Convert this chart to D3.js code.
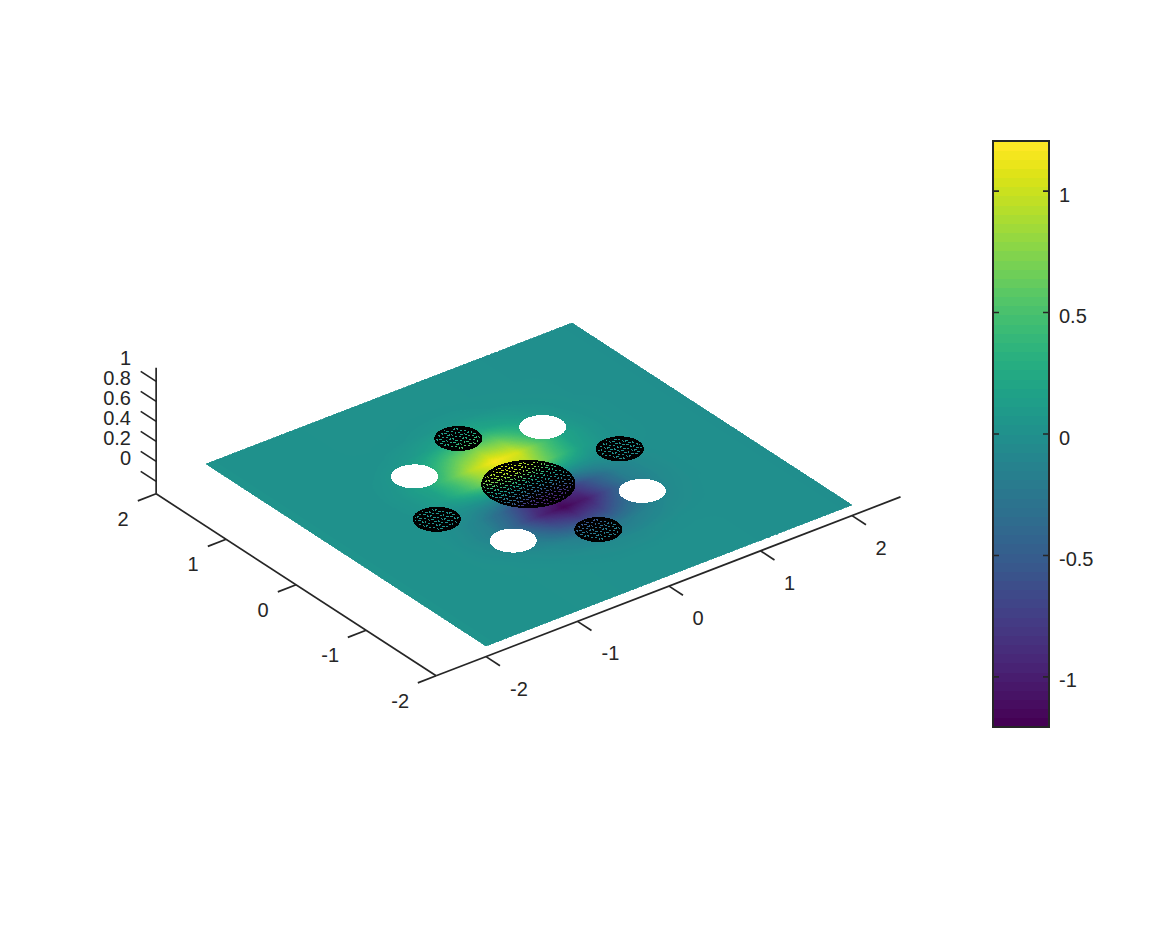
<!DOCTYPE html>
<html><head><meta charset="utf-8">
<script src="https://cdn.jsdelivr.net/npm/d3@7"></script>
<style>html,body{margin:0;background:#fff}svg{display:block}text{font-family:"Liberation Sans",sans-serif;font-size:20px;fill:#262626}</style>
</head><body><svg id="c" width="1167" height="927"></svg>
<script>
const xTicks=[-2,-1,0,1,2], yTicks=[-2,-1,0,1,2], zTicks=[0,0.2,0.4,0.6,0.8,1], cbTicks=[-1,-0.5,0,0.5,1];
const xLim=[-2.545,2.53], yLim=[-2,2], zLim=[-0.124,1.136], cLim=[-1.206,1.206];
const gridX=[-2,-1.5,-1.25,-1,-0.75,-0.5,-0.25,0,0.25,0.5,0.75,1,1.25,1.5,2];
const gridY=[2,1.5,1.25,1,0.75,0.5,0.25,0,-0.25,-0.5,-0.75,-1,-1.25,-1.5,-2];
const fieldValues=[
[0.03,0.02,0.015,0.01,0.005,0,0,0,0,0,-0.005,-0.01,-0.01,-0.015,-0.02],
[0.03,0.02,0.015,0.01,0.005,0,0.01,0.01,0.01,0,-0.005,-0.01,-0.01,-0.015,-0.02],
[0.03,0.02,0.015,0.01,0.01,0.02,0.04,0.06,0.06,0.03,0.01,-0.005,-0.01,-0.015,-0.02],
[0.03,0.02,0.015,0.02,0.04,0.09,0.17,0.25,0.24,0.15,0.06,0.02,-0.01,-0.015,-0.02],
[0.03,0.02,0.015,0.04,0.1,0.3,0.58,0.75,0.68,0.36,0.13,0.04,0,-0.015,-0.02],
[0.03,0.02,0.015,0.06,0.18,0.52,0.93,1.18,1.05,0.58,0.2,0.06,0,-0.015,-0.02],
[0.03,0.02,0.015,0.05,0.15,0.43,0.78,0.96,0.84,0.47,0.15,0.04,0,-0.015,-0.02],
[0.03,0.02,0.015,0.01,0.005,0,0,0,0,0,-0.005,-0.01,-0.01,-0.015,-0.02],
[0.03,0.02,0.01,-0.03,-0.12,-0.38,-0.78,-0.96,-0.82,-0.47,-0.17,-0.06,-0.02,-0.015,-0.02],
[0.03,0.02,0.01,-0.05,-0.16,-0.5,-0.95,-1.18,-1.02,-0.58,-0.2,-0.07,-0.02,-0.015,-0.02],
[0.03,0.02,0.01,-0.03,-0.09,-0.28,-0.58,-0.75,-0.66,-0.36,-0.13,-0.05,-0.02,-0.015,-0.02],
[0.03,0.02,0.015,0,-0.03,-0.08,-0.17,-0.25,-0.23,-0.14,-0.06,-0.03,-0.01,-0.015,-0.02],
[0.03,0.02,0.015,0.01,0,-0.02,-0.04,-0.06,-0.06,-0.03,-0.015,-0.01,-0.01,-0.015,-0.02],
[0.03,0.02,0.015,0.01,0.005,0,-0.01,-0.01,-0.01,-0.005,-0.005,-0.01,-0.01,-0.015,-0.02],
[0.03,0.02,0.015,0.01,0.005,0,0,0,0,0,-0.005,-0.01,-0.01,-0.015,-0.02]];
// holes: [x, y, radius]
const whiteHoles=[[0.7,0.72,0.2],[0.71,-0.69,0.2],[-0.7,-0.69,0.2],[-0.7,0.72,0.2]];
const meshedHoles=[[0,0.01,0.4],[1,0.01,0.2],[0,1.01,0.2],[-1,0.01,0.2],[0,-0.99,0.2]];

const svg=d3.select('#c');
const INK='#262626';
const colours=d3.range(64).map(i=>d3.interpolateViridis(i/63));
const shades=d3.range(256).map(i=>d3.interpolateViridis(i/255));
const colourOf=d3.scaleQuantize().domain(cLim).range(shades);
// projection
const cx=529, cy=484.5;
const hx=d3.scaleLinear([-2,2],[-183,183]), hy=d3.scaleLinear([-2,2],[140,-140]);
const vx=d3.scaleLinear([-2,2],[70.5,-70.5]), vy=d3.scaleLinear([-2,2],[91,-91]), vz=d3.scaleLinear([0,1],[-1.8,-101.8]);
const P=(x,y,z)=>[cx+hx(x)+hy(y), cy+vx(x)+vy(y)+(z===undefined?0:vz(z))];
const poly=pts=>'M'+pts.map(p=>p[0].toFixed(2)+','+p[1].toFixed(2)).join('L')+'Z';

// surface: bilinear shading of the value table, merged per colour level
const buckets=new Map(shades.map(c=>[c,[]]));
const fineStep=i=>Math.max(1,Math.round((gridX[i+1]-gridX[i])/0.0125));
for(let r=0;r<gridY.length-1;r++)for(let c=0;c<gridX.length-1;c++){
  const nx=fineStep(c), ny=Math.max(1,Math.round((gridY[r]-gridY[r+1])/0.0125));
  const v00=fieldValues[r][c],v10=fieldValues[r][c+1],v01=fieldValues[r+1][c],v11=fieldValues[r+1][c+1];
  for(let i=0;i<nx;i++)for(let j=0;j<ny;j++){
    const u=(i+.5)/nx,w=(j+.5)/ny;
    const v=(v00*(1-u)+v10*u)*(1-w)+(v01*(1-u)+v11*u)*w;
    const x0=gridX[c]+(gridX[c+1]-gridX[c])*i/nx,x1=gridX[c]+(gridX[c+1]-gridX[c])*(i+1)/nx;
    const y0=gridY[r]+(gridY[r+1]-gridY[r])*j/ny,y1=gridY[r]+(gridY[r+1]-gridY[r])*(j+1)/ny;
    buckets.get(colourOf(v)).push(poly([P(x0,y0),P(x1,y0),P(x1,y1),P(x0,y1)]));
  }
}
svg.append('g').attr('shape-rendering','crispEdges').selectAll('path').data([...buckets].filter(d=>d[1].length)).join('path')
  .attr('d',d=>d[1].join('')).attr('fill',d=>d[0]).attr('stroke',d=>d[0]).attr('stroke-width',0.7);

// holes
const circlePts=h=>d3.range(0,360,4).map(a=>P(h[0]+h[2]*Math.cos(a*Math.PI/180),h[1]+h[2]*Math.sin(a*Math.PI/180)));
svg.append('g').attr('shape-rendering','crispEdges').selectAll('path').data(whiteHoles).join('path').attr('d',h=>poly(circlePts(h))).attr('fill','#fff').attr('stroke','#fff');
const spacing=0.066;
const meshPath=h=>{
  let d='';
  [0,60,120].forEach(deg=>{
    const a=deg*Math.PI/180,ux=Math.cos(a),uy=Math.sin(a),nx=-uy,ny=ux,step=spacing*0.866;
    for(let k=Math.ceil(-h[2]/step);k*step<h[2];k++){
      const o=k*step,half=Math.sqrt(h[2]*h[2]-o*o);
      d+='M'+P(h[0]+nx*o-ux*half,h[1]+ny*o-uy*half).join(',')+'L'+P(h[0]+nx*o+ux*half,h[1]+ny*o+uy*half).join(',');
    }
  });
  return d;
};
const mh=svg.append('g').attr('shape-rendering','crispEdges');
mh.selectAll('.m').data(meshedHoles).join('path').attr('class','m').attr('d',meshPath).attr('fill','none').attr('stroke','#000').attr('stroke-width',1.55);
mh.selectAll('.o').data(meshedHoles).join('path').attr('class','o').attr('d',h=>poly(circlePts(h))).attr('fill','none').attr('stroke','#000').attr('stroke-width',2);

// 3D axes
const ax=svg.append('g').attr('fill','none').attr('stroke',INK).attr('stroke-width',1.7);
const seg=(a,b)=>ax.append('path').attr('d','M'+a.join(',')+'L'+b.join(','));
const zb=zLim[0];
seg(P(xLim[0],yLim[0],zb),P(xLim[1],yLim[0],zb));
seg(P(xLim[0],yLim[0],zb),P(xLim[0],yLim[1],zb));
seg(P(xLim[0],yLim[1],zb),P(xLim[0],yLim[1],zLim[1]));
const label=(p,t,anchor='middle')=>svg.append('text').attr('x',p[0]).attr('y',p[1]+7).attr('text-anchor',anchor).text(t);
xTicks.forEach(t=>{const a=P(t,yLim[0],zb),b=P(t,yLim[0]-0.2,zb);seg(a,b);label([a[0]+(t<0?33:29),a[1]+32],t);});
yTicks.forEach(t=>{const a=P(xLim[0],t,zb),b=P(xLim[0]-0.2,t,zb);seg(a,b);label([a[0]-(t<0?36:33),a[1]+25],t);});
zTicks.forEach(t=>{const a=P(xLim[0],yLim[1],t),b=P(xLim[0],yLim[1]+0.22,t);seg(a,b);label([131,a[1]-23],t,'end');});

// colorbar
const cbX=993,cbW=56,cbTop=141,cbBot=727;
const cbScale=d3.scaleLinear(cLim,[cbBot,cbTop]);
const cb=svg.append('g');
cb.append('g').attr('shape-rendering','crispEdges').selectAll('rect').data(colours).join('rect')
  .attr('x',cbX).attr('width',cbW)
  .attr('y',(c,i)=>cbScale(cLim[0]+(i+1)*(cLim[1]-cLim[0])/64))
  .attr('height',(cbBot-cbTop)/64+0.5).attr('fill',c=>c);
cb.append('rect').attr('x',cbX).attr('y',cbTop).attr('width',cbW).attr('height',cbBot-cbTop).attr('fill','none').attr('stroke',INK).attr('stroke-width',2);
const axisG=cb.append('g').attr('transform',`translate(${cbX+cbW},0)`).call(d3.axisRight(cbScale).tickValues(cbTicks).tickSize(0).tickPadding(10).tickFormat(d=>String(d)));
axisG.select('.domain').remove();
axisG.selectAll('text').attr('dy','0.5em').style('font-size','20px').style('font-family','"Liberation Sans",sans-serif').attr('fill',INK);
cbTicks.forEach(t=>{const y=cbScale(t);
  cb.append('path').attr('d',`M${cbX},${y}h6M${cbX+cbW},${y}h-6`).attr('stroke',INK).attr('stroke-width',1.7);});
</script></body></html>
